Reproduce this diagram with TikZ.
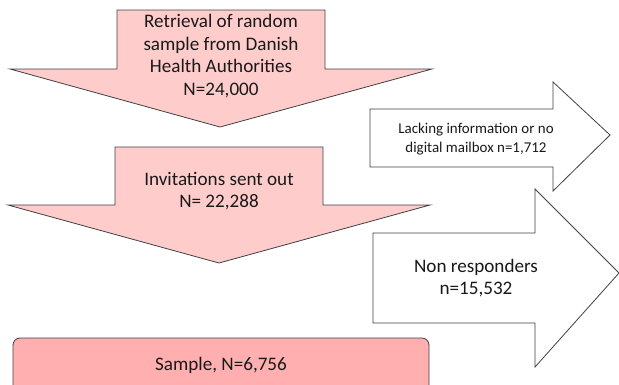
\documentclass[tikz,border=0pt]{standalone}
\usepackage{fontspec}
\setmainfont{Carlito}
\begin{document}
\begin{tikzpicture}[x=1bp,y=-1bp,
  shp/.style={draw=black!75, line width=0.8bp, line join=miter},
  pinkarrow/.style={shp, fill=pinkfill},
  whitearrow/.style={shp, fill=white},
  bigtxt/.style={align=center, font=\fontsize{19.2}{22.7}\selectfont, text=black!90, inner sep=0pt},
  smalltxt/.style={align=center, font=\fontsize{15}{18.5}\selectfont, text=black!90, inner sep=0pt}]
\definecolor{pinkfill}{HTML}{FFCCCC}
\definecolor{samplefill}{HTML}{FFAFAF}
\useasboundingbox (0,0) rectangle (619,384);
\clip (0,0) rectangle (619,384);
% down arrow 1
\draw[pinkarrow] (117,10) -- (325,10) -- (325,69) -- (432,69) -- (220,127) -- (10,69) -- (117,69) -- cycle;
\node[bigtxt] (retrieval) at (221,56) {Retrieval of random\\sample from Danish\\Health Authorities\\N=24,000};
% down arrow 2
\draw[pinkarrow] (115,147) -- (323,147) -- (323,205) -- (430,205) -- (219,263) -- (8,205) -- (115,205) -- cycle;
\node[bigtxt] (invit) at (219,191) {Invitations sent out\\N= 22,288};
% right arrow 1
\draw[whitearrow] (370,109) -- (553,109) -- (553,82) -- (610,135) -- (553,191) -- (553,167) -- (370,167) -- cycle;
\node[smalltxt] (lacking) at (476,139) {Lacking information or no\\digital mailbox n=1,712};
% right arrow 2
\draw[whitearrow] (373,233) -- (535,233) -- (535,189) -- (619,273) -- (535,367) -- (535,323) -- (373,323) -- cycle;
\node[bigtxt] (nonresp) at (476,278) {Non responders\\n=15,532};
% sample box
\draw[shp, fill=samplefill, rounded corners=7bp] (13,338) rectangle (429,400);
\node[bigtxt] (sample) at (221,365) {Sample, N=6,756};
\end{tikzpicture}
\end{document}
